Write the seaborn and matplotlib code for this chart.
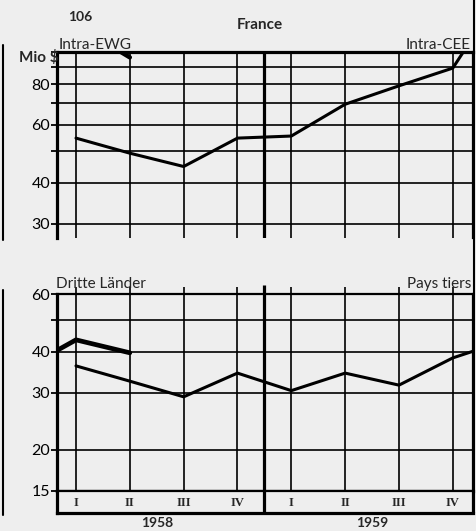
import matplotlib
matplotlib.use("Agg")
import matplotlib.pyplot as plt
import seaborn as sns
import pandas as pd
from matplotlib.ticker import FixedLocator, FuncFormatter, NullLocator
from matplotlib.lines import Line2D

# ---------------- data ----------------
quarter_labels = ["I", "II", "III", "IV", "I", "II", "III", "IV"]
quarter_pos = [0, 1, 2, 3, 4, 5, 6, 7]
year_labels = ["1958", "1959"]
year_pos = [1.5, 5.5]

# Intra-EWG / Intra-CEE (Mio $), last value = next quarter (runs off chart)
intra_x = [0, 1, 2, 3, 4, 5, 6, 7, 8]
intra_ewg = [54.7, 49.2, 44.8, 54.7, 55.5, 69.4, 79.0, 89.5, 160.0]
intra_prev_x = [0, 1]
intra_prev = [121.0, 96.5]

# Dritte Länder / Pays tiers (Mio $)
third_x = [0, 1, 2, 3, 4, 5, 6, 7, 8]
third = [36.2, 32.5, 29.1, 34.4, 30.4, 34.4, 31.6, 38.3, 43.4]
third_prev_x = [-1, 0, 1]
third_prev = [35.2, 43.5, 39.7]

top_grid = [30, 40, 50, 60, 70, 80, 90, 100]
top_labels = [30, 40, 60, 80]
bot_grid = [15, 20, 30, 40, 50, 60]
bot_labels = [15, 20, 30, 40, 60]

# ---------------- style ----------------
BG = "#eeeeee"
sns.set_style("ticks", rc={"axes.facecolor": BG, "figure.facecolor": BG,
                           "axes.edgecolor": "black"})
plt.rcParams["font.family"] = ["Lato", "DejaVu Sans"]

W, H = 476, 531
fig = plt.figure(figsize=(W / 100, H / 100), dpi=100)

def rect(l, t, r, b):
    return [l / W, 1 - b / H, (r - l) / W, (b - t) / H]

XLIM = (-0.353, 7.375)

ax1 = fig.add_axes(rect(57, 52.3, 473, 238))
ax2 = fig.add_axes(rect(57, 294.3, 473, 490.7))
ax3 = fig.add_axes(rect(57, 490.7, 473, 512.5))

df_top = pd.DataFrame({"q": intra_x, "v": intra_ewg})
df_top_prev = pd.DataFrame({"q": intra_prev_x, "v": intra_prev})
df_bot = pd.DataFrame({"q": third_x, "v": third})
df_bot_prev = pd.DataFrame({"q": third_prev_x, "v": third_prev})

def setup(ax, grid, labels, ylim):
    ax.set_yscale("log")
    ax.set_xlim(*XLIM)
    ax.set_ylim(*ylim)
    ax.yaxis.set_major_locator(FixedLocator(grid))
    ax.yaxis.set_minor_locator(NullLocator())
    ax.yaxis.set_major_formatter(
        FuncFormatter(lambda v, p: f"{int(round(v))}" if int(round(v)) in labels else ""))
    ax.xaxis.set_major_locator(FixedLocator(quarter_pos))
    ax.xaxis.set_minor_locator(NullLocator())
    ax.set_xticklabels([])
    ax.tick_params(axis="x", length=0)
    ax.tick_params(axis="y", length=4, width=1.3, pad=1, labelsize=11.5, colors="black")
    ax.grid(True, axis="y", color="black", lw=1.2)
    ax.set_xlabel("")
    ax.set_ylabel("")

# top panel
sns.lineplot(data=df_top, x="q", y="v", ax=ax1, color="black", lw=2.2,
             estimator=None, sort=False)
sns.lineplot(data=df_top_prev, x="q", y="v", ax=ax1, color="black", lw=3.2,
             estimator=None, sort=False)
setup(ax1, top_grid, top_labels, (27.1, 100))
ax1.grid(True, axis="x", color="black", lw=1.2)
ax1.axvline(3.5, color="black", lw=2.3)
for s in ["left", "top"]:
    ax1.spines[s].set_linewidth(2.3)
ax1.spines["right"].set_linewidth(1.6)
ax1.spines["bottom"].set_visible(False)

# bottom panel
sns.lineplot(data=df_bot, x="q", y="v", ax=ax2, color="black", lw=2.2,
             estimator=None, sort=False)
sns.lineplot(data=df_bot_prev, x="q", y="v", ax=ax2, color="black", lw=3.4,
             estimator=None, sort=False)
setup(ax2, bot_grid, bot_labels, (15, 60))
ax2.vlines(quarter_pos, 15, 63, color="black", lw=1.2, clip_on=False)
ax2.vlines([3.5], 15, 64, color="black", lw=2.3, clip_on=False)
for s in ["left", "bottom"]:
    ax2.spines[s].set_linewidth(2.3)
ax2.spines["top"].set_linewidth(1.6)
ax2.spines["right"].set_linewidth(1.6)

# quarter label box
ax3.set_xlim(*XLIM)
ax3.set_ylim(0, 1)
ax3.set_xticks([])
ax3.set_yticks([])
ax3.axvline(3.5, color="black", lw=2.3)
for s in ["left", "bottom"]:
    ax3.spines[s].set_linewidth(2.3)
ax3.spines["top"].set_linewidth(1.6)
ax3.spines["right"].set_linewidth(1.6)
for xp, lab in zip(quarter_pos, quarter_labels):
    ax3.text(xp, 0.42, lab, ha="center", va="center", fontsize=9,
             fontweight="bold", family=["Liberation Serif"])
for xp, lab in zip(year_pos, year_labels):
    ax3.text(xp, -0.5, lab, ha="center", va="center", fontsize=10,
             fontweight="bold")

# panel labels
ax1.annotate("Intra-EWG", xy=(0, 1), xycoords="axes fraction", xytext=(1, 2.5),
             textcoords="offset points", ha="left", va="baseline", fontsize=11)
ax1.annotate("Intra-CEE", xy=(1, 1), xycoords="axes fraction", xytext=(-2, 2.5),
             textcoords="offset points", ha="right", va="baseline", fontsize=11)
ax2.annotate("Dritte Länder", xy=(0, 1), xycoords="axes fraction", xytext=(-1, 4.5),
             textcoords="offset points", ha="left", va="baseline", fontsize=11)
ax2.annotate("Pays tiers", xy=(1, 1), xycoords="axes fraction", xytext=(-1, 4.5),
             textcoords="offset points", ha="right", va="baseline", fontsize=11)

fig.text(80 / W, 1 - 17 / H, "106", ha="center", va="center", fontsize=10,
         fontweight="bold")
fig.text(260 / W, 1 - 25 / H, "France", ha="center", va="center", fontsize=11,
         fontweight="bold")
fig.text(59 / W, 1 - 57 / H, "Mio $", ha="right", va="center", fontsize=11,
         fontweight="bold")

# scan border lines
fig.add_artist(Line2D([2.5 / W, 2.5 / W], [1 - 45 / H, 1 - 240 / H], color="black", lw=1.5))
fig.add_artist(Line2D([2.5 / W, 2.5 / W], [1 - 290 / H, 1 - 515 / H], color="black", lw=1.5))
fig.add_artist(Line2D([473.5 / W, 473.5 / W], [1.0, 1 - 513 / H], color="black", lw=1.5))

fig.savefig("out.png", dpi=100, facecolor=BG)
